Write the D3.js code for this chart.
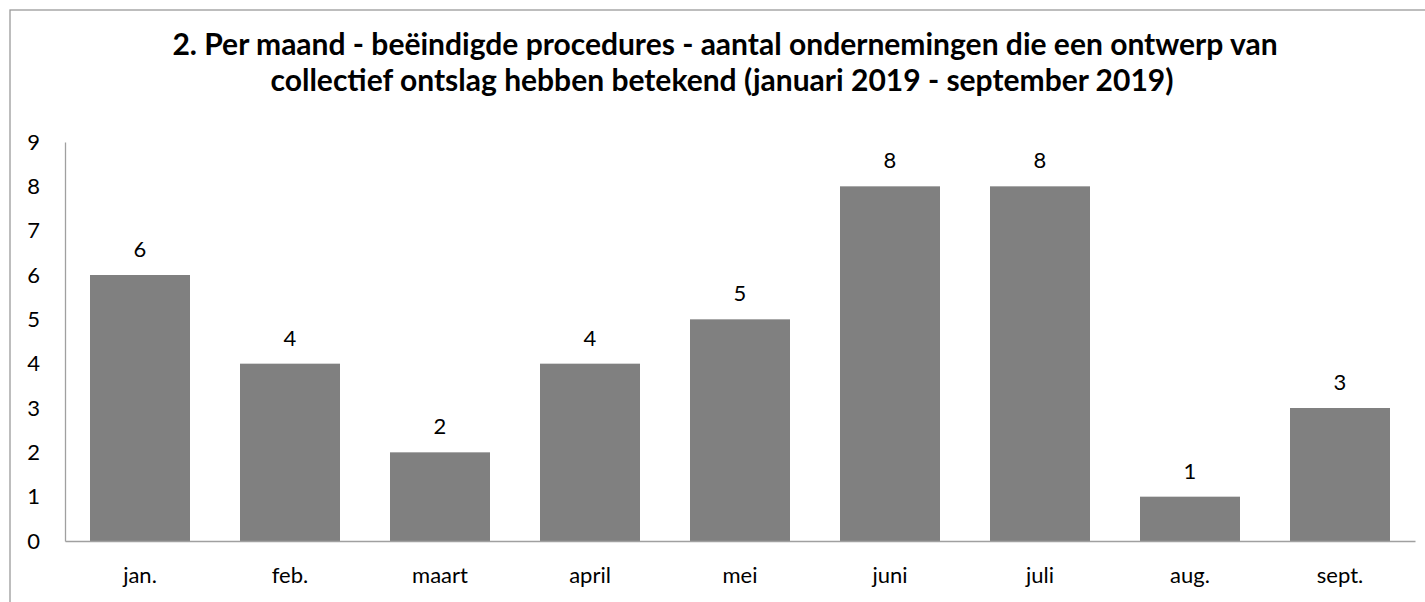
<!DOCTYPE html>
<html>
<head>
<meta charset="utf-8">
<title>Beëindigde procedures per maand</title>
<script src="https://d3js.org/d3.v7.min.js"></script>
<style>
  body { margin: 0; background: #fff; }
  text { font-family: Lato, "Open Sans", sans-serif; fill: #000; }
</style>
</head>
<body>
<div id="chart"></div>
<script>

// data
var months = ["jan.", "feb.", "maart", "april", "mei", "juni", "juli", "aug.", "sept."];
var counts = [6, 4, 2, 4, 5, 8, 8, 1, 3];
var yTicks = [0, 1, 2, 3, 4, 5, 6, 7, 8, 9];
var titleLines = [
  "2. Per maand - beëindigde procedures - aantal ondernemingen die een ontwerp van",
  "collectief ontslag hebben betekend (januari 2019 - september 2019)"
];

var W = 1425, H = 602;
var plot = {left: 65, right: 1415, top: 142, bottom: 541};
var labelSize = "22px";

var svg = d3.select("#chart").append("svg")
    .attr("width", W)
    .attr("height", H);

// chart frame (only left + top edges are inside the crop)
svg.append("rect")
    .attr("x", 10).attr("y", 10)
    .attr("width", W + 20).attr("height", H + 20)
    .attr("fill", "none")
    .attr("stroke", "#9a9a9a")
    .attr("stroke-width", 1.3);

// title, sized so the first line spans the same width as the original
var title = svg.append("g");
var t1 = title.append("text")
    .attr("x", 725).attr("y", 55)
    .attr("text-anchor", "middle")
    .style("font-weight", "bold")
    .style("font-size", "28px")
    .text(titleLines[0]);
var fs = 28 * 1106 / t1.node().getComputedTextLength();
t1.style("font-size", fs + "px");
title.append("text")
    .attr("x", 722).attr("y", 91)
    .attr("text-anchor", "middle")
    .style("font-weight", "bold")
    .style("font-size", fs + "px")
    .text(titleLines[1]);

var x = d3.scaleBand()
    .domain(months)
    .range([plot.left, plot.right])
    .paddingInner(1 / 3)
    .paddingOuter(1 / 6);

var y = d3.scaleLinear()
    .domain([0, 9])
    .range([plot.bottom, plot.top]);

// bars
svg.append("g")
  .selectAll("rect")
  .data(counts)
  .enter().append("rect")
    .attr("x", function(d, i) { return x(months[i]); })
    .attr("y", function(d) { return y(d); })
    .attr("width", x.bandwidth())
    .attr("height", function(d) { return y(0) - y(d); })
    .attr("fill", "#808080");

// value labels
svg.append("g")
  .selectAll("text")
  .data(counts)
  .enter().append("text")
    .attr("x", function(d, i) { return x(months[i]) + x.bandwidth() / 2; })
    .attr("y", function(d) { return y(d) - 18; })
    .attr("text-anchor", "middle")
    .style("font-size", labelSize)
    .text(function(d) { return d; });

// y axis
var yAxis = svg.append("g")
    .attr("transform", "translate(" + plot.left + ",0)")
    .call(d3.axisLeft(y).tickValues(yTicks).tickSize(0).tickPadding(25));
yAxis.select(".domain").attr("stroke", "#a0a0a0").attr("stroke-width", 1.3);
yAxis.selectAll("text")
    .style("font-size", labelSize)
    .style("font-family", "Lato, 'Open Sans', sans-serif")
    .attr("fill", "#000");

// x axis
var xAxis = svg.append("g")
    .attr("transform", "translate(0," + plot.bottom + ")")
    .call(d3.axisBottom(x).tickSize(0).tickSizeOuter(0));
xAxis.select(".domain").attr("stroke", "#a0a0a0").attr("stroke-width", 1.3);
xAxis.selectAll("text")
    .attr("y", 42).attr("dy", 0)
    .style("font-size", labelSize)
    .style("font-family", "Lato, 'Open Sans', sans-serif")
    .attr("fill", "#000");

</script>
</body>
</html>
